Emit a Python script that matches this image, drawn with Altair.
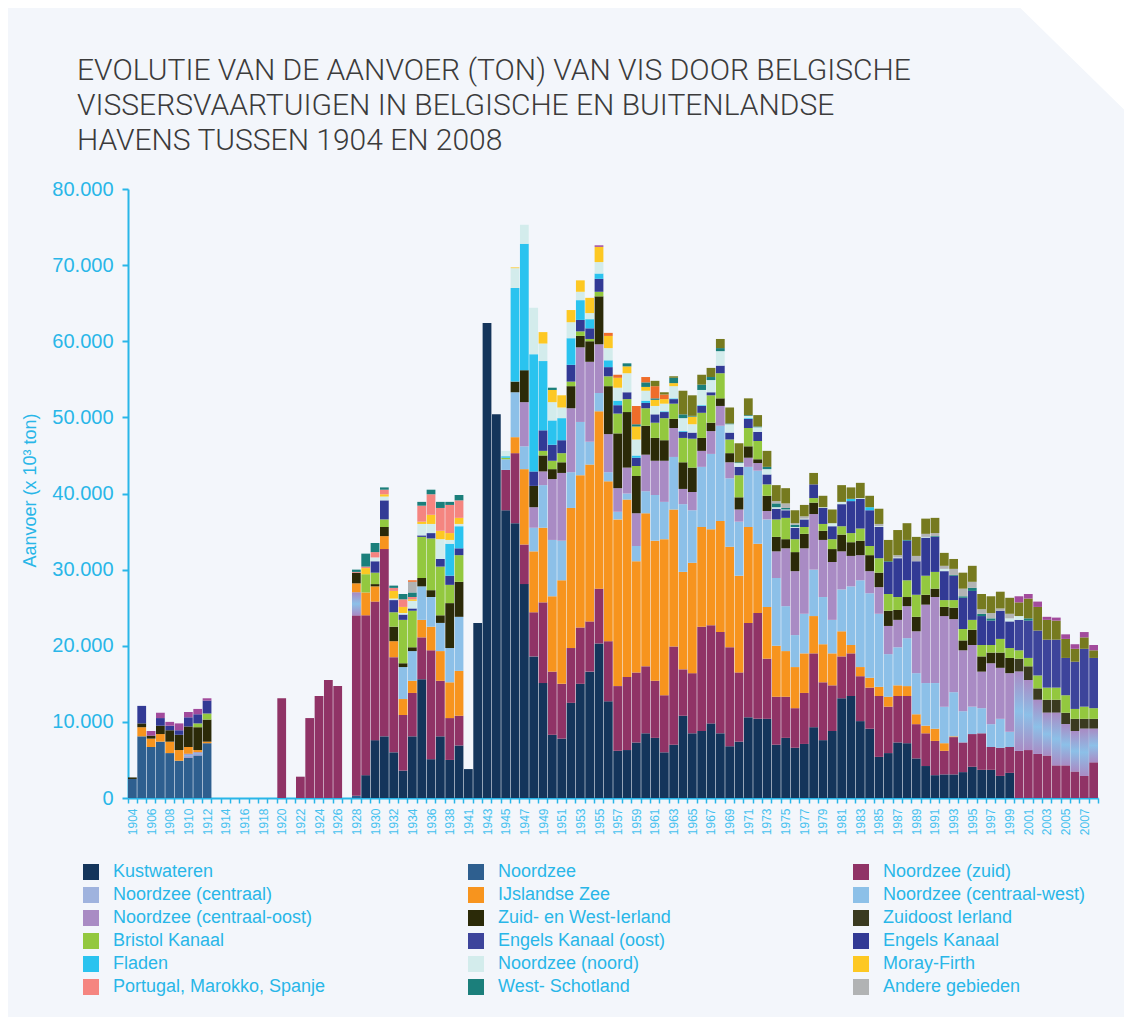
import altair as alt
import pandas as pd

# ---------------- categories ----------------
years = [str(y) for y in range(1904, 1940)] + [str(y) for y in range(1941, 2009)]
x_tick_labels = years[::2]

title_lines = ["EVOLUTIE VAN DE AANVOER (TON) VAN VIS DOOR BELGISCHE",
               "VISSERSVAARTUIGEN IN BELGISCHE EN BUITENLANDSE",
               "HAVENS TUSSEN 1904 EN 2008"]

# ---------------- series (stack order, bottom -> top) ----------------
series_names = [
    "Kustwateren", "Noordzee", "Noordzee (zuid)", "Noordzee (centraal)", "IJslandse Zee",
    "Noordzee (centraal-west)", "Noordzee (centraal-oost)", "Zuid- en West-Ierland",
    "Zuidoost Ierland", "Bristol Kanaal", "Engels Kanaal (oost)", "Engels Kanaal", "Fladen",
    "Noordzee (noord)", "Moray-Firth", "Portugal, Marokko, Spanje", "West- Schotland",
    "Andere gebieden", "Overige (oranje)", "Overige (olijf)", "Overige (paars)",
]
series_colors = [
    "#14355b", "#2e5f8f", "#903366", "#9fb3de", "#f7941e",
    "#8cc0e8", "#a98bc4", "#2b2a08",
    "#3a3a20", "#93c83f", "#3d449b", "#323a95", "#2ac3ef",
    "#d3ecec", "#fdc823", "#f58580", "#1b7f7b",
    "#b1b3b4", "#ef6d2a", "#767a1f", "#a24b9c",
]
# legend entries, column by column
legend_order = [
    "Kustwateren", "Noordzee (centraal)", "Noordzee (centraal-oost)", "Bristol Kanaal",
    "Fladen", "Portugal, Marokko, Spanje",
    "Noordzee", "IJslandse Zee", "Zuid- en West-Ierland", "Engels Kanaal (oost)",
    "Noordzee (noord)", "West- Schotland",
    "Noordzee (zuid)", "Noordzee (centraal-west)", "Zuidoost Ierland", "Engels Kanaal",
    "Moray-Firth", "Andere gebieden",
]

# ---------------- values (x 1000 ton) ----------------
kustwateren = {1929: 3.0, 1930: 7.6, 1931: 8.1, 1932: 6.0, 1933: 3.6, 1934: 8.1, 1935: 15.6, 1936: 5.1,
    1937: 8.1, 1938: 5.0, 1939: 6.9, 1941: 3.8, 1942: 23.0, 1943: 62.4, 1944: 50.4, 1945: 37.8,
    1946: 36.1, 1947: 28.1, 1948: 18.6, 1949: 15.1, 1950: 8.3, 1951: 7.8, 1952: 12.5, 1953: 15.0,
    1954: 16.6, 1955: 20.3, 1956: 12.7, 1957: 6.2, 1958: 6.3, 1959: 7.3, 1960: 8.5, 1961: 7.9,
    1962: 6.0, 1963: 7.0, 1964: 10.8, 1965: 8.5, 1966: 8.8, 1967: 9.8, 1968: 8.5, 1969: 6.8,
    1970: 7.4, 1971: 10.6, 1972: 10.4, 1973: 10.4, 1974: 7.0, 1975: 7.9, 1976: 6.6, 1977: 7.1,
    1978: 9.3, 1979: 7.6, 1980: 8.8, 1981: 13.1, 1982: 13.4, 1983: 10.1, 1984: 9.1, 1985: 5.4,
    1986: 5.9, 1987: 7.3, 1988: 7.2, 1989: 5.2, 1990: 4.2, 1991: 3.0, 1992: 3.1, 1993: 3.1,
    1994: 3.4, 1995: 4.1, 1996: 3.7, 1997: 3.7, 1998: 2.9, 1999: 3.3}
noordzee = {1904: 2.5, 1905: 8.1, 1906: 6.7, 1907: 7.4, 1908: 5.9, 1909: 4.9, 1910: 5.3, 1911: 5.6,
    1912: 7.2, 1928: 0.3}
noordzee_zuid = {1920: 13.1, 1922: 2.8, 1923: 10.5, 1924: 13.4, 1925: 15.5, 1926: 14.7, 1928: 23.7,
    1929: 21.0, 1930: 18.2, 1931: 24.6, 1932: 12.5, 1933: 7.3, 1934: 5.7, 1935: 5.5, 1936: 14.3,
    1937: 7.3, 1938: 5.5, 1939: 3.9, 1945: 5.3, 1946: 9.2, 1947: 5.2, 1948: 5.8, 1949: 10.6,
    1950: 8.3, 1951: 7.2, 1952: 7.2, 1953: 7.4, 1954: 6.6, 1955: 7.2, 1956: 7.9, 1957: 8.5,
    1958: 9.6, 1959: 9.2, 1960: 8.8, 1961: 7.5, 1962: 7.5, 1963: 12.9, 1964: 6.1, 1965: 7.9,
    1966: 13.7, 1967: 12.9, 1968: 13.3, 1969: 13.0, 1970: 9.1, 1971: 12.4, 1972: 13.9, 1973: 7.9,
    1974: 6.3, 1975: 5.4, 1976: 5.2, 1977: 6.7, 1978: 9.7, 1979: 7.6, 1980: 6.0, 1981: 5.5,
    1982: 5.6, 1983: 5.9, 1984: 5.4, 1985: 8.0, 1986: 6.1, 1987: 6.1, 1988: 6.2, 1989: 4.5,
    1990: 4.3, 1991: 4.5, 1992: 3.1, 1993: 4.9, 1994: 3.9, 1995: 4.3, 1996: 4.8, 1997: 3.0,
    1998: 3.7, 1999: 3.4, 2000: 6.2, 2001: 6.3, 2002: 5.8, 2003: 5.6, 2004: 4.3, 2005: 4.3,
    2006: 3.5, 2007: 2.9, 2008: 4.7}
noordzee_centraal = {1910: 0.5, 1911: 0.4, 1928: 3.0, 2000: 10.4, 2001: 9.2, 2002: 7.1, 2003: 5.6,
    2004: 6.9, 2005: 5.4, 2006: 5.3, 2007: 6.2, 2008: 4.4}
ijslandse_zee = {1905: 1.2, 1906: 1.1, 1907: 1.0, 1908: 1.5, 1909: 1.4, 1910: 0.9, 1911: 0.3, 1912: 0.2,
    1928: 1.2, 1929: 3.0, 1930: 2.0, 1931: 1.7, 1932: 2.1, 1933: 2.1, 1934: 1.6, 1935: 2.3,
    1936: 3.1, 1937: 3.9, 1938: 4.7, 1939: 5.9, 1946: 2.1, 1947: 9.9, 1948: 8.0, 1949: 9.8,
    1950: 9.9, 1951: 13.6, 1952: 18.4, 1953: 20.0, 1954: 20.6, 1955: 23.3, 1956: 21.0, 1957: 21.9,
    1958: 23.3, 1959: 14.6, 1960: 20.1, 1961: 18.4, 1962: 20.5, 1963: 18.0, 1964: 12.8, 1965: 14.5,
    1966: 13.1, 1967: 12.6, 1968: 14.6, 1969: 13.2, 1970: 12.7, 1971: 12.6, 1972: 9.1, 1973: 6.8,
    1974: 6.7, 1975: 6.0, 1976: 5.4, 1977: 5.2, 1978: 4.9, 1979: 5.0, 1980: 4.2, 1981: 3.3,
    1982: 1.1, 1983: 1.2, 1984: 1.3, 1985: 1.2, 1986: 1.3, 1987: 1.4, 1988: 1.3, 1989: 1.3,
    1990: 1.0, 1991: 1.6, 1992: 1.0, 1993: 0.1}
noordzee_centraal_west = {1933: 4.2, 1934: 3.9, 1935: 4.4, 1936: 3.9, 1937: 3.7, 1938: 4.5, 1939: 7.1,
    1945: 1.4, 1946: 5.9, 1947: 3.0, 1948: 3.1, 1949: 5.6, 1950: 7.4, 1951: 5.2, 1952: 4.7,
    1953: 7.0, 1954: 3.0, 1955: 2.4, 1956: 1.2, 1957: 1.0, 1958: 0.8, 1959: 2.0, 1960: 2.9,
    1961: 6.0, 1962: 4.9, 1963: 6.9, 1964: 8.9, 1965: 6.9, 1966: 7.9, 1967: 9.9, 1968: 12.5,
    1969: 9.0, 1970: 7.1, 1971: 7.9, 1972: 9.6, 1973: 11.5, 1974: 8.9, 1975: 5.9, 1976: 4.2,
    1977: 5.2, 1978: 6.1, 1979: 6.2, 1980: 4.4, 1981: 5.5, 1982: 7.7, 1983: 11.4, 1984: 11.1,
    1985: 9.6, 1986: 5.6, 1987: 5.0, 1988: 6.3, 1989: 5.4, 1990: 5.6, 1991: 6.0, 1992: 4.8,
    1993: 5.8, 1994: 4.1, 1995: 3.6, 1996: 3.3, 1997: 3.0, 1998: 3.8, 1999: 2.0}
noordzee_centraal_oost = {1947: 5.8, 1948: 2.7, 1949: 1.8, 1950: 8.0, 1951: 8.9, 1952: 8.4, 1953: 9.8,
    1954: 10.5, 1955: 6.4, 1956: 5.0, 1957: 3.1, 1958: 3.4, 1959: 4.3, 1960: 4.8, 1961: 4.5,
    1962: 5.4, 1963: 3.8, 1964: 2.0, 1965: 2.4, 1966: 2.1, 1967: 3.0, 1968: 2.6, 1969: 2.1,
    1970: 1.6, 1971: 1.2, 1972: 1.0, 1973: 1.1, 1974: 3.5, 1975: 7.6, 1976: 8.4, 1977: 8.6,
    1978: 7.3, 1979: 7.5, 1980: 7.6, 1981: 5.0, 1982: 4.0, 1983: 3.3, 1984: 2.9, 1985: 3.5,
    1986: 3.7, 1987: 3.6, 1988: 4.2, 1989: 5.5, 1990: 10.3, 1991: 11.3, 1992: 11.9, 1993: 9.6,
    1994: 8.0, 1995: 8.1, 1996: 4.8, 1997: 8.0, 1998: 6.7, 1999: 7.7}
zuid_west_ierland = {1904: 0.2, 1905: 0.5, 1906: 0.4, 1907: 1.1, 1908: 1.5, 1909: 2.0, 1910: 2.7,
    1911: 3.0, 1912: 2.9, 1928: 1.4, 1930: 0.3, 1931: 1.2, 1932: 1.9, 1933: 0.5, 1934: 0.5,
    1935: 1.1, 1936: 0.9, 1937: 1.0, 1938: 5.9, 1939: 4.6, 1946: 1.4, 1947: 4.2, 1948: 2.8,
    1949: 2.1, 1950: 1.3, 1951: 1.4, 1952: 2.9, 1953: 1.5, 1954: 2.7, 1955: 6.3, 1956: 6.3,
    1957: 7.2, 1958: 7.3, 1959: 4.9, 1960: 3.8, 1961: 3.0, 1962: 2.7, 1963: 1.2, 1964: 3.5,
    1965: 3.2, 1966: 1.7, 1967: 1.1, 1968: 1.0, 1969: 1.2, 1970: 1.6, 1971: 1.5, 1972: 0.5,
    1973: 2.0, 1974: 1.9, 1975: 1.2, 1976: 2.5, 1977: 1.9, 1978: 1.5, 1979: 1.2, 1980: 1.7,
    1981: 2.2, 1982: 1.8, 1983: 1.9, 1984: 2.1, 1985: 1.9, 1986: 2.0, 1987: 1.3, 1988: 1.2,
    1989: 1.9, 1990: 1.3, 1991: 1.1, 1992: 1.2, 1993: 1.5, 1994: 1.3, 1995: 2.0, 1996: 2.0,
    1997: 1.4, 1998: 2.0, 1999: 2.0, 2002: 0.1}
zuidoost_ierland = {2000: 1.7, 2001: 1.8, 2002: 1.4, 2003: 1.7, 2004: 1.7, 2005: 1.5, 2006: 1.6,
    2007: 1.3, 2008: 1.3}
bristol_kanaal = {1911: 0.5, 1912: 0.8, 1929: 2.4, 1930: 1.5, 1931: 1.0, 1932: 1.9, 1933: 5.7,
    1934: 4.8, 1935: 5.4, 1936: 6.8, 1937: 6.4, 1938: 2.4, 1939: 3.5, 1945: 0.2, 1949: 0.6,
    1950: 1.1, 1951: 1.2, 1952: 0.6, 1953: 0.6, 1954: 0.3, 1955: 0.6, 1956: 1.3, 1957: 2.6,
    1958: 1.7, 1959: 1.3, 1960: 2.3, 1961: 2.0, 1962: 2.9, 1963: 2.0, 1964: 3.2, 1965: 3.8,
    1966: 3.3, 1967: 3.6, 1968: 3.3, 1969: 1.8, 1970: 2.9, 1971: 2.4, 1972: 2.4, 1973: 1.5,
    1974: 2.3, 1975: 2.8, 1976: 1.7, 1977: 0.9, 1978: 0.6, 1979: 0.9, 1980: 1.3, 1981: 1.1,
    1982: 1.2, 1983: 1.6, 1984: 1.2, 1985: 1.9, 1986: 2.2, 1987: 1.7, 1988: 2.2, 1989: 2.9,
    1990: 2.5, 1991: 2.2, 1992: 0.9, 1993: 1.0, 1994: 1.5, 1995: 1.3, 1996: 1.5, 1997: 1.0,
    1998: 1.8, 1999: 1.3, 2000: 1.1, 2001: 1.1, 2002: 1.7, 2003: 1.6, 2004: 1.6, 2005: 2.3,
    2006: 1.3, 2007: 1.6, 2008: 1.4}
engels_kanaal_oost = {2000: 4.0, 2001: 4.9, 2002: 5.9, 2003: 6.3, 2004: 6.3, 2005: 4.9, 2006: 6.2,
    2007: 7.6, 2008: 6.6}
engels_kanaal = {1905: 2.3, 1907: 1.0, 1908: 0.6, 1909: 0.6, 1910: 1.2, 1911: 1.2, 1912: 1.7,
    1930: 1.5, 1931: 2.5, 1932: 1.6, 1933: 0.7, 1934: 0.3, 1935: 0.2, 1936: 0.7, 1937: 1.0,
    1938: 1.2, 1939: 0.9, 1948: 1.9, 1949: 2.7, 1950: 2.1, 1951: 1.7, 1952: 2.2, 1953: 1.5,
    1954: 1.4, 1955: 1.7, 1956: 1.2, 1957: 1.1, 1958: 0.9, 1959: 1.1, 1960: 0.7, 1961: 1.1,
    1962: 0.8, 1963: 0.6, 1964: 0.8, 1965: 0.8, 1966: 0.9, 1967: 0.4, 1968: 1.0, 1969: 0.9,
    1970: 1.1, 1971: 1.2, 1972: 1.2, 1973: 1.3, 1974: 1.4, 1975: 1.0, 1976: 1.5, 1977: 1.0,
    1978: 1.8, 1979: 2.1, 1980: 1.7, 1981: 2.9, 1982: 4.2, 1983: 3.9, 1984: 4.7, 1985: 4.1,
    1986: 4.2, 1987: 5.1, 1988: 5.2, 1989: 4.4, 1990: 5.0, 1991: 4.6, 1992: 3.8, 1993: 3.2,
    1994: 4.1, 1995: 3.8, 1996: 3.8, 1997: 3.2, 1998: 3.7, 1999: 3.5}
fladen = {1938: 4.2, 1939: 2.9, 1945: 0.2, 1946: 12.3, 1947: 16.6, 1948: 15.4, 1949: 9.1, 1950: 3.2,
    1951: 2.9, 1952: 3.5, 1953: 2.6, 1954: 1.2, 1955: 0.7, 1956: 0.9, 1957: 0.6, 1959: 0.3,
    1960: 0.3, 1962: 0.1, 1963: 0.1, 1964: 0.1, 1966: 0.1, 1971: 0.1, 1982: 0.3, 1984: 0.4}
noordzee_noord = {1930: 0.5, 1931: 0.5, 1932: 0.2, 1933: 0.2, 1934: 1.0, 1935: 1.5, 1936: 1.2,
    1937: 2.6, 1938: 0.5, 1939: 0.3, 1945: 0.7, 1946: 2.6, 1947: 2.5, 1948: 6.1, 1949: 2.3,
    1950: 2.4, 1951: 1.4, 1952: 2.1, 1953: 1.1, 1954: 0.8, 1955: 1.5, 1956: 1.6, 1957: 1.7,
    1958: 2.5, 1959: 2.1, 1960: 1.3, 1961: 1.1, 1962: 1.0, 1963: 1.6, 1964: 1.7, 1965: 1.1,
    1966: 2.0, 1967: 1.6, 1968: 1.9, 1969: 1.1, 1970: 0.5, 1971: 0.3, 1972: 0.6, 1973: 0.7,
    1974: 0.2, 1975: 0.1, 1976: 0.1, 1977: 0.1, 1979: 0.1, 1980: 0.4, 1981: 0.3, 1983: 0.1,
    1985: 0.1, 1987: 0.1, 1990: 0.1, 1992: 0.3, 1999: 0.4, 2000: 0.5}
moray_firth = {1929: 0.8, 1931: 0.3, 1932: 1.0, 1933: 0.8, 1934: 0.2, 1935: 0.3, 1936: 1.2, 1937: 1.1,
    1938: 0.9, 1939: 0.8, 1946: 0.1, 1949: 1.5, 1950: 1.6, 1951: 1.6, 1952: 1.6, 1953: 1.5,
    1954: 2.0, 1955: 2.0, 1956: 1.6, 1957: 1.3, 1958: 0.9, 1959: 1.7, 1960: 0.5, 1961: 0.8,
    1962: 0.6, 1963: 0.4, 1965: 1.0}
portugal_marokko_spanje = {1928: 0.1, 1929: 0.2, 1930: 0.7, 1931: 0.6, 1932: 0.4, 1933: 1.0, 1934: 0.3,
    1935: 2.1, 1936: 2.7, 1937: 3.0, 1938: 3.7, 1939: 2.3}
west_schotland = {1928: 0.3, 1929: 1.7, 1930: 1.2, 1931: 0.3, 1932: 0.3, 1933: 0.7, 1934: 0.6,
    1935: 0.5, 1936: 0.6, 1937: 0.8, 1938: 0.4, 1939: 0.7, 1950: 0.3, 1958: 0.4, 1959: 0.3,
    1960: 0.6, 1961: 0.2, 1963: 0.7, 1964: 0.5, 1965: 0.1, 1966: 0.7, 1967: 0.4, 1968: 0.4,
    1969: 0.1, 1970: 0.1, 1971: 0.1, 1972: 0.1, 1973: 0.3, 1974: 0.5, 1975: 0.2, 1976: 0.3,
    1986: 0.1, 1988: 0.1, 1991: 0.1, 1993: 0.1, 1994: 0.2, 1995: 0.4, 1996: 0.3, 1997: 0.3,
    2001: 0.3}
andere_gebieden = {1934: 1.4, 1974: 0.3, 1975: 0.6, 1976: 0.2, 1977: 0.3, 1985: 0.3, 1987: 0.3,
    1989: 0.7, 1990: 0.4, 1991: 0.4, 1992: 0.4, 1993: 0.8, 1994: 1.0, 1995: 0.8, 1996: 0.6,
    1997: 0.7, 1998: 0.3, 1999: 0.6}
overige_oranje = {1934: 0.2, 1956: 0.4, 1957: 0.4, 1959: 2.4, 1960: 0.7, 1961: 1.6, 1962: 0.6}
overige_olijf = {1961: 0.7, 1962: 0.3, 1963: 0.2, 1964: 3.1, 1965: 2.7, 1966: 1.3, 1967: 1.2,
    1968: 1.2, 1969: 2.1, 1970: 2.5, 1971: 2.2, 1972: 1.5, 1973: 2.1, 1974: 2.1, 1975: 2.0,
    1976: 1.7, 1977: 1.5, 1978: 1.5, 1979: 1.5, 1980: 1.8, 1981: 2.2, 1982: 1.5, 1983: 2.0,
    1984: 1.5, 1985: 2.0, 1986: 2.8, 1987: 3.3, 1988: 2.2, 1989: 2.5, 1990: 2.0, 1991: 2.0,
    1992: 1.7, 1993: 1.3, 1994: 2.1, 1995: 2.1, 1996: 2.0, 1997: 2.2, 1998: 2.2, 1999: 2.1,
    2000: 1.8, 2001: 2.6, 2002: 3.1, 2003: 2.6, 2004: 2.5, 2005: 2.5, 2006: 1.7, 2007: 1.5,
    2008: 1.0}
overige_paars = {1906: 0.6, 1907: 0.7, 1908: 0.5, 1909: 0.9, 1910: 0.7, 1911: 0.7, 1912: 0.3,
    1955: 0.2, 2000: 0.8, 2001: 0.6, 2002: 0.7, 2003: 0.4, 2004: 0.4, 2005: 0.6, 2006: 0.6,
    2007: 0.7, 2008: 0.7}

series_values = [
    kustwateren, noordzee, noordzee_zuid, noordzee_centraal, ijslandse_zee,
    noordzee_centraal_west, noordzee_centraal_oost, zuid_west_ierland,
    zuidoost_ierland, bristol_kanaal, engels_kanaal_oost, engels_kanaal, fladen,
    noordzee_noord, moray_firth, portugal_marokko_spanje, west_schotland,
    andere_gebieden, overige_oranje, overige_olijf, overige_paars,
]

rows = []
for idx, (name, vals) in enumerate(zip(series_names, series_values)):
    for yr, v in vals.items():
        rows.append({"jaar": str(yr), "serie": name, "idx": idx, "ton": v * 1000})
df = pd.DataFrame(rows)

CYAN = "#29b6e8"
LABEL_FONT = "Liberation Sans"

x_label_expr = "indexof([" + ",".join("'%s'" % s for s in x_tick_labels) + "], datum.label) >= 0 ? datum.label : ''"

x_scale = alt.Scale(domain=years, paddingInner=0.06, paddingOuter=0)
y_scale = alt.Scale(domain=[0, 80000], nice=False)

x_enc = alt.X("jaar:O", scale=x_scale, title=None, axis=alt.Axis(
    labelExpr=x_label_expr, labelAngle=270, labelFontSize=12, labelColor="#45c1ef",
    labelFont=LABEL_FONT, domainColor=CYAN, domainWidth=2, tickColor=CYAN, tickSize=5,
    tickWidth=1.5, tickBand="extent", labelPadding=5, grid=False, labelOverlap=False))
y_enc = alt.Y("y0:Q", scale=y_scale, title="Aanvoer (x 10³ ton)", axis=alt.Axis(
    values=[0, 10000, 20000, 30000, 40000, 50000, 60000, 70000, 80000],
    labelExpr="replace(format(datum.value, ','), ',', '.')",
    labelFontSize=20, labelColor=CYAN, labelFont=LABEL_FONT, domainColor=CYAN, domainWidth=2,
    tickColor=CYAN, tickSize=6, tickWidth=2, grid=False, labelPadding=9,
    titleColor=CYAN, titleFontSize=18, titleFont=LABEL_FONT, titleFontWeight="normal",
    titleX=-98, titleY=301, titleAlign="center", titleBaseline="middle"))

base = alt.Chart(df).transform_stack(
    stack="ton", groupby=["jaar"], as_=["y0", "y1"],
    sort=[alt.SortField("idx", order="ascending")],
)

bars = base.mark_bar().encode(
    x=x_enc,
    y=y_enc,
    y2="y1:Q",
    color=alt.Color("serie:N", scale=alt.Scale(domain=series_names, range=series_colors),
        legend=alt.Legend(
            values=legend_order, orient="none", legendX=-46, legendY=674, columns=3,
            gridAlign="all", columnPadding=141, rowPadding=5, symbolType="square",
            symbolSize=256, symbolStrokeWidth=0, labelFontSize=18, labelColor=CYAN,
            labelFont=LABEL_FONT, labelLimit=400, labelOffset=13, title=None, padding=0)),
)

grad = base.transform_filter(alt.datum.serie == "Noordzee (centraal)").mark_bar(
    color=alt.Gradient(gradient="linear", x1=0, x2=0, y1=0, y2=1, stops=[
        alt.GradientStop(color="#a98bc4", offset=0),
        alt.GradientStop(color="#8cc0e8", offset=0.5),
        alt.GradientStop(color="#a98bc4", offset=1),
    ])
).encode(x=x_enc, y=y_enc, y2="y1:Q")

title_text = alt.Chart(alt.Data(values=[{}])).mark_text(
    text="\n".join(title_lines), lineBreak="\n", lineHeight=35, align="left",
    baseline="alphabetic", fontSize=30, font="Roboto", fontWeight=300, color="#3b3b3b",
).encode(x=alt.value(-51), y=alt.value(-109))

corner = alt.Chart(alt.Data(values=[{}])).mark_rule(color="white", strokeWidth=80).encode(
    x=alt.value(877), y=alt.value(-252), x2=alt.value(1067), y2=alt.value(-66)
)

chart = alt.layer(bars, grad, title_text, corner).properties(
    width=970, height=609,
    background="#f3f6fb",
    padding={"left": 120, "top": 181, "right": 26, "bottom": 219},
    autosize=alt.AutoSizeParams(type="none"),
).configure_view(stroke=None)

chart.save("out.html", embed_options={"renderer": "svg", "actions": False})
